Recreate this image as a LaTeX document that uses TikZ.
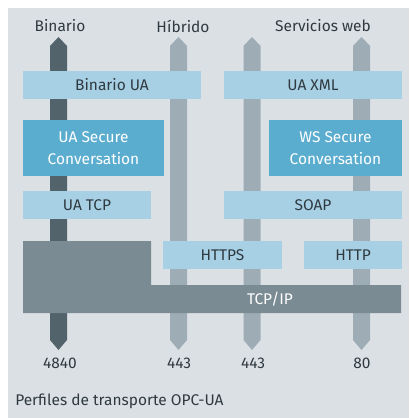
\documentclass[tikz,border=0pt]{standalone}
\usepackage{fontspec}
\setmainfont{Fira Sans}
\usepackage{tikz}
\usetikzlibrary{positioning}

\definecolor{bggray}{HTML}{DBE0E4}
\definecolor{darkpipe}{HTML}{52636C}
\definecolor{lightpipe}{HTML}{9EACB5}
\definecolor{paleblue}{HTML}{A8D0E4}
\definecolor{midblue}{HTML}{5BADCF}
\definecolor{stackgray}{HTML}{7B8B93}
\definecolor{inkgray}{HTML}{2F3A40}

\tikzset{
  layer/.style={fill=paleblue, text=inkgray, inner sep=0pt, minimum height=0.7cm},
  secure/.style={fill=midblue, text=white, inner sep=0pt, minimum height=1.4cm, align=center},
  caption/.style={text=inkgray, inner sep=0pt}
}

\begin{document}
\begin{tikzpicture}[x=0.025cm, y=-0.025cm, font=\fontsize{11}{15.5}\selectfont]
              \useasboundingbox (0,0) rectangle (409,418);
              \fill[bggray] (8,8) rectangle (409,418);

              % Rohre der Profile
              \fill[darkpipe] (50,46) -- (58.5,37) -- (67,46) -- (67,340) -- (58.5,350) -- (50,340) -- cycle;
              \fill[lightpipe] (170,46) -- (178.5,37) -- (187,46) -- (187,340) -- (178.5,350) -- (170,340) -- cycle;
              \fill[lightpipe] (243.5,46) -- (252,37) -- (260.5,46) -- (260.5,340) -- (252,350) -- (243.5,340) -- cycle;
              \fill[lightpipe] (353,46) -- (361.5,37) -- (370,46) -- (370,340) -- (361.5,350) -- (353,340) -- cycle;

              \node[caption] (binario) at (60,26) {Binario};
              \node[caption] (hibrido) at (183,26) {Híbrido};
              \node[caption] (servicios) at (323,26) {Servicios web};

              \node[layer, minimum width=4.45cm] (binua) at (112,85) {Binario UA};
              \node[layer, minimum width=4.45cm] (uaxml) at (313,85) {UA XML};
              \node[secure, minimum width=3.525cm] (uasc) at (93.5,148) {UA Secure\\Conversation};
              \node[secure, minimum width=3.325cm] (wssc) at (335.5,148) {WS Secure\\Conversation};
              \node[layer, minimum width=3.2cm] (uatcp) at (87,205) {UA TCP};
              \node[layer, minimum width=4.45cm] (soap) at (313,205) {SOAP};
              \node[layer, minimum width=2.975cm] (https) at (222.5,255) {HTTPS};
              \node[layer, minimum width=2.45cm] (http) at (353,255) {HTTP};

              \fill[stackgray] (23,241) -- (151,241) -- (151,285) -- (401,285) -- (401,313) -- (23,313) -- cycle;
              \node[text=white, inner sep=0pt] (tcpip) at (270,299) {TCP/IP};

              \node[caption] (p4840) at (60,363) {4840};
              \node[caption] (p443a) at (179,363) {443};
              \node[caption] (p443b) at (253,363) {443};
              \node[caption] (p80) at (362,363) {80};

              \node[caption, anchor=west] (perfiles) at (15,401) {Perfiles de transporte OPC-UA};
            \end{tikzpicture}
\end{document}
